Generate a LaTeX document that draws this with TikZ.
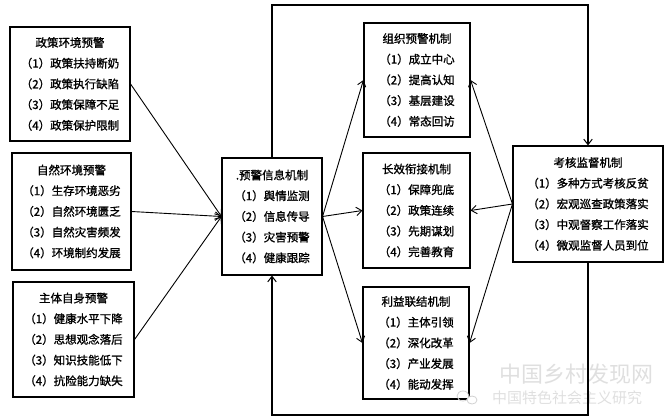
\documentclass[tikz,border=0pt]{standalone}
\usepackage{fontspec}
\newfontfamily\cjk{Noto Sans CJK SC}[FakeBold=1.2]
\newfontfamily\cjkwm{Noto Sans CJK SC}
\usetikzlibrary{arrows.meta}
\tikzset{
  box/.style={draw=black, line width=1.1pt, rectangle, align=center, inner sep=0pt,
    font=\cjk\fontsize{11.5}{20.7}\selectfont, text=black},
  arr/.style={draw=black, line width=0.9pt, -{Straight Barb[length=5.5pt,width=8.5pt,line width=0.9pt]}},
  loop/.style={draw=black, line width=1.2pt, -{Straight Barb[length=5.5pt,width=8.5pt,line width=1pt]}},
  wm/.style={text=gray!25, inner sep=0pt}
}
\begin{document}
\begin{tikzpicture}[x=1pt,y=-1pt]
\useasboundingbox (0,0) rectangle (668,419);
% left boxes
\node[box, minimum width=120, minimum height=114] (p1) at (70,84)
  {政策环境预警\\（1）政策扶持断奶\\（2）政策执行缺陷\\（3）政策保障不足\\（4）政策保护限制};
\node[box, minimum width=119, minimum height=117] (p2) at (71.5,211.5)
  {自然环境预警\\（1）生存环境恶劣\\（2）自然环境匮乏\\（3）自然灾害频发\\（4）环境制约发展};
\node[box, minimum width=121, minimum height=115] (p3) at (73.5,339.5)
  {主体自身预警\\（1）健康水平下降\\（2）思想观念落后\\（3）知识技能低下\\（4）抗险能力缺失};
% center box
\node[box, minimum width=100, minimum height=117] (c) at (272,216.5)
  {.预警信息机制\\（1）舆情监测\\（2）信息传导\\（3）灾害预警\\（4）健康跟踪};
% middle boxes
\node[box, minimum width=106, minimum height=114] (o1) at (417,80)
  {组织预警机制\\（1）成立中心\\（2）提高认知\\（3）基层建设\\（4）常态回访};
\node[box, minimum width=107, minimum height=115] (o2) at (416.5,210.5)
  {长效衔接机制\\（1）保障兜底\\（2）政策连续\\（3）先期谋划\\（4）完善教育};
\node[box, minimum width=106, minimum height=112] (o3) at (416,343)
  {利益联结机制\\（1）主体引领\\（2）深化改革\\（3）产业发展\\（4）能动发挥};
% assessment box
\node[box, minimum width=150, minimum height=116] (a) at (588,204)
  {考核监督机制\\（1）多种方式考核反贫\\（2）宏观巡查政策落实\\（3）中观督察工作落实\\（4）微观监督人员到位};
% watermark
\node[wm, font=\cjkwm\fontsize{22}{22}\selectfont] (wm1) at (576,374) {中国乡村发现网};
\node[wm, font=\cjkwm\fontsize{15}{15}\selectfont] (wm2) at (567,398) {中国特色社会主义研究};
\draw[gray!35, line width=0.8pt] (463,396) ellipse (6 and 5);
\draw[gray!35, line width=0.8pt, fill=white] (472,400) ellipse (5 and 4);
% coordinates for loops
\coordinate (topy) at (0,5);
\coordinate (boty) at (0,415);
% arrows left -> center
\draw[arr] (p1.east) -- (c.west);
\draw[arr] (p2.east) -- (c.west);
\draw[arr] (p3.east) -- (c.west);
% center -> middle
\draw[arr] (c.east) -- (o1.west);
\draw[arr] (c.east) -- (o2.west);
\draw[arr] (c.east) -- (o3.west);
% assessment -> middle
\draw[arr] (a.west) -- (o1.east);
\draw[arr] (a.west) -- (o2.east);
\draw[arr] (a.west) -- (o3.east);
% loops
\draw[loop] (c.north) |- (topy -| a.north) -- (a.north);
\draw[loop] (a.south) |- (boty -| c.south) -- (c.south);
\end{tikzpicture}
\end{document}
